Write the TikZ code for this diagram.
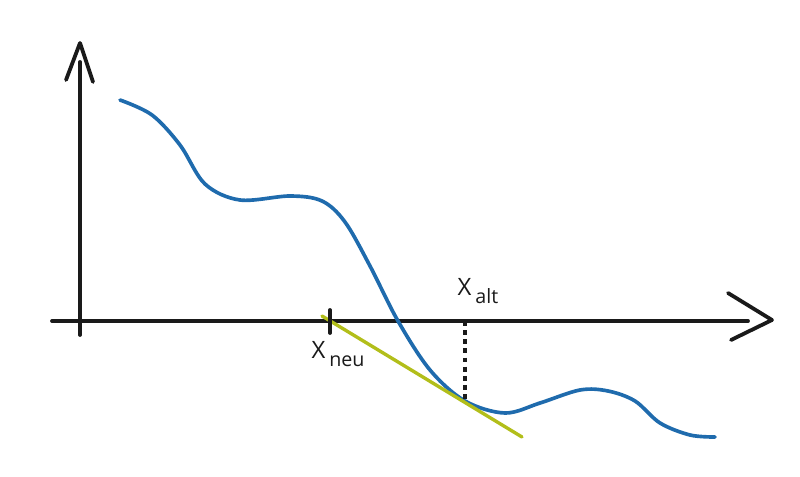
\documentclass[tikz,border=0pt]{standalone}
\usepackage{fontspec}
\setmainfont{Open Sans}
\usepackage{xcolor}
\usepackage{tikz}
\usetikzlibrary{calc}
\definecolor{ink}{HTML}{1A1A1A}
\definecolor{curve}{HTML}{1F6BAD}
\definecolor{tang}{HTML}{B2BE1A}
\tikzset{
  axis/.style={draw=ink, line width=2.7pt, line cap=round, line join=round},
  fun/.style={draw=curve, line width=2.6pt, line cap=round, line join=round},
  tan/.style={draw=tang, line width=2.4pt, line cap=round},
  help/.style={draw=ink, dash pattern=on 3.5pt off 3pt, line width=2.4pt},
  lab/.style={text=ink, font=\fontsize{17}{19}\selectfont, inner sep=0pt},
}
\newcommand{\sublab}[1]{\raisebox{-0.6ex}{\fontsize{14}{16}\selectfont #1}}

\begin{document}
\begin{tikzpicture}[x=0.025cm, y=-0.025cm]
  \useasboundingbox (0,0) rectangle (800,477);
  % axes
  \coordinate (yb) at (80,335); \coordinate (yt) at (80,62);
  \coordinate (xl) at (52,321); \coordinate (xr) at (748,321);
  \draw[axis] (yb) -- (yt);
  \draw[axis] (xl) -- (xr);
  \draw[axis] (66,80) -- (80,43) -- (93,82);
  \draw[axis] (728,293) -- (772,320) -- (731,340);
  % function
  \draw[fun] plot[smooth, tension=0.55] coordinates {
    (120,100) (152,115) (180,145) (205,184) (240,200) (290,196)
    (322,201) (345,222) (370,266) (398,321) (430,370) (465,401)
    (505,413) (540,403) (580,390) (608,391) (635,401) (660,423)
    (690,435) (715,437)};
  % tangent and points
  \coordinate (P) at (465,402);
  \coordinate (xalt) at (465,321);
  \coordinate (xneu) at (330,321);
  \draw[tan] (322,316) -- (522,437);
  \draw[help] (xalt) -- (P);
  \draw[axis] ($(xneu)+(0,-11)$) -- ($(xneu)+(0,12)$);
  \node[lab] (altlab) at (478,291) {X\,\sublab{alt}};
  \node[lab] (neulab) at (338,354) {X\,\sublab{neu}};
\end{tikzpicture}
\end{document}
